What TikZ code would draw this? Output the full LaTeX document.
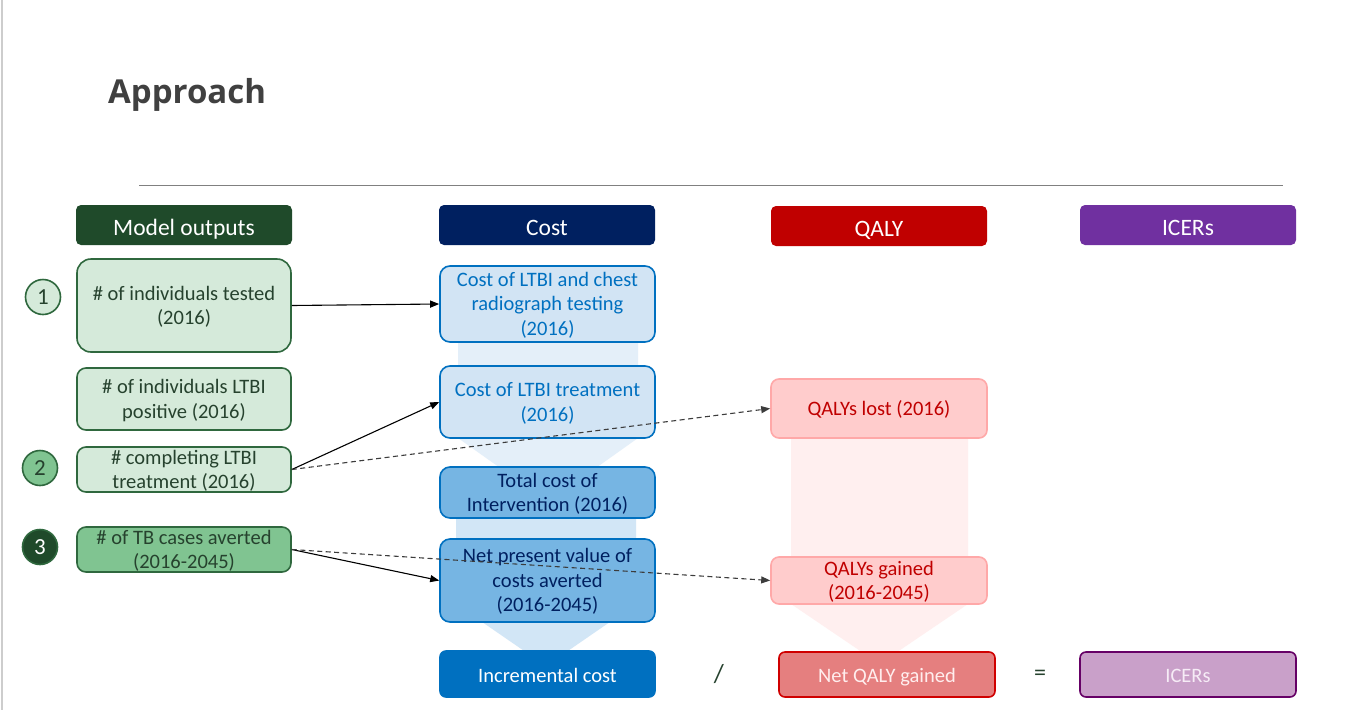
\documentclass[tikz,border=0pt]{standalone}
\usepackage{fontspec}
\setmainfont{Carlito}
\newfontfamily\titlefont{Open Sans}
\usetikzlibrary{arrows.meta}
\definecolor{hdrgreen}{RGB}{31,74,42}
\definecolor{hdrnavy}{RGB}{0,32,96}
\definecolor{hdrred}{RGB}{192,0,0}
\definecolor{hdrpurple}{RGB}{112,48,160}
\definecolor{lgfill}{RGB}{213,234,218}
\definecolor{mgfill}{RGB}{128,196,145}
\definecolor{gborder}{RGB}{47,104,62}
\definecolor{gtext}{RGB}{38,66,46}
\definecolor{lbfill}{RGB}{210,228,244}
\definecolor{mbfill}{RGB}{118,181,227}
\definecolor{bborder}{RGB}{0,112,192}
\definecolor{btext}{RGB}{0,112,192}
\definecolor{navytext}{RGB}{0,32,96}
\definecolor{arrowA}{RGB}{228,239,249}
\definecolor{arrowB}{RGB}{210,230,246}
\definecolor{arrowQ}{RGB}{255,239,239}
\definecolor{qfill}{RGB}{255,204,204}
\definecolor{qborder}{RGB}{255,168,168}
\definecolor{qtext}{RGB}{192,0,0}
\definecolor{netfill}{RGB}{229,127,127}
\definecolor{netborder}{RGB}{208,0,0}
\definecolor{icfill}{RGB}{201,160,201}
\definecolor{icborder}{RGB}{102,0,102}
\definecolor{titlegray}{RGB}{64,64,64}
\definecolor{linegray}{RGB}{128,128,128}
\definecolor{edgegray}{RGB}{205,205,205}
\definecolor{dashgray}{RGB}{60,60,60}
\newcommand\botstr{\rule[-4.8pt]{0pt}{4.8pt}}
\newcommand\ml[1]{\vbox to 0pt{\vss\hbox{\begin{tabular}{@{}c@{}}\rule{0pt}{21pt}#1\end{tabular}}\vss}}
\begin{document}
\begin{tikzpicture}[x=1pt,y=-1pt,
  tstr/.style={execute at begin node={\rule{0pt}{#1}}, execute at end node=\botstr},
  hdr/.style={rectangle, rounded corners=5pt, minimum width=216pt, minimum height=40pt, inner sep=0pt, text=white, font=\fontsize{23.5}{26}\selectfont, tstr=26pt},
  lbox/.style={rectangle, rounded corners=9pt, draw=gborder, line width=1.6pt, fill=lgfill, minimum width=214pt, inner sep=0pt, text=gtext, font=\fontsize{20.5}{24.5}\selectfont},
  circ/.style={circle, draw=gborder, line width=1.6pt, minimum size=35pt, inner sep=0pt, font=\fontsize{23}{26}\selectfont},
  cbox/.style={rectangle, rounded corners=10pt, draw=bborder, line width=1.6pt, minimum width=215pt, inner sep=0pt, font=\fontsize{20.5}{24.5}\selectfont},
  qbox/.style={rectangle, rounded corners=8pt, draw=qborder, line width=1.6pt, fill=qfill, minimum width=216pt, inner sep=0pt, text=qtext, font=\fontsize{20.5}{24.5}\selectfont},
  bbox/.style={rectangle, rounded corners=6pt, line width=1.6pt, minimum width=216pt, minimum height=45pt, inner sep=0pt, font=\fontsize{20.5}{24}\selectfont, tstr=20.5pt},
  conn/.style={line width=1.1pt, -{Triangle[length=9pt,width=7pt]}},
  dconn/.style={conn, draw=dashgray, dash pattern=on 5pt off 3.5pt}
]
\useasboundingbox (0,0) rectangle (1349,710);
\fill[white] (0,0) rectangle (1349,710);
\draw[edgegray, line width=1.2pt] (2,0) -- (2,710);
\node[anchor=base west, inner sep=0pt, text=titlegray, font=\titlefont\bfseries\fontsize{33}{36}\selectfont] (title) at (108,103) {Approach};
\draw[linegray, line width=1pt] (139,185) -- (1283,185);

% background block arrows
\fill[arrowA] (458,300) -- (638,300) -- (638,438) -- (548,502) -- (458,438) -- cycle;
\fill[arrowB] (456,505) -- (636,505) -- (636,604) -- (546,666) -- (456,604) -- cycle;
\fill[arrowQ] (791,420) -- (968,420) -- (968,604) -- (879.5,664) -- (791,604) -- cycle;

% headers
\node[hdr, fill=hdrgreen] (h1) at (184,225) {Model outputs};
\node[hdr, fill=hdrnavy] (h2) at (547,225) {Cost};
\node[hdr, fill=hdrred] (h3) at (879,226) {QALY};
\node[hdr, fill=hdrpurple] (h4) at (1188,225) {ICERs};

% model outputs
\node[lbox, rounded corners=14pt, minimum height=93pt] (m1) at (184,305.5) {\ml{\# of individuals tested\\(2016)}};
\node[lbox, minimum height=62pt] (m2) at (184,399) {\ml{\# of individuals LTBI\\positive (2016)}};
\node[lbox, minimum height=45pt] (m3) at (184,469.5) {\ml{\# completing LTBI\\treatment (2016)}};
\node[lbox, fill=mgfill, minimum height=45pt] (m4) at (184,549.5) {\ml{\# of TB cases averted\\(2016-2045)}};

\node[circ, fill=lgfill, text=gtext] (n1) at (43,297) {1};
\node[circ, fill=mgfill, text=gtext] (n2) at (40,468) {2};
\node[circ, fill=hdrgreen, text=white] (n3) at (40,547) {3};

% cost column
\node[cbox, fill=lbfill, text=btext, minimum height=76pt] (c1) at (547.5,304) {\ml{Cost of LTBI and chest\\radiograph testing\\(2016)}};
\node[cbox, fill=lbfill, text=btext, minimum height=72pt] (c2) at (547.5,402) {\ml{Cost of LTBI treatment\\(2016)}};
\node[cbox, fill=mbfill, text=navytext, minimum height=51pt] (c3) at (547.5,492.5) {\ml{Total cost of\\Intervention (2016)}};
\node[cbox, fill=mbfill, text=navytext, minimum height=83pt] (c4) at (547.5,580.5) {\ml{Net present value of\\costs averted\\(2016-2045)}};
\node[bbox, fill=bborder, draw=bborder, text=white, minimum width=215pt, minimum height=46pt, tstr=21.5pt] (inc) at (547.5,674) {Incremental cost};

% QALY column
\node[qbox, minimum height=59pt, tstr=18.5pt] (q1) at (879,408.5) {QALYs lost (2016)};
\node[qbox, minimum height=47pt] (q2) at (879,580.5) {\ml{QALYs gained\\(2016-2045)}};
\node[bbox, fill=netfill, draw=netborder, text={rgb,255:red,255;green,238;blue,238}] (net) at (887,674.5) {Net QALY gained};

% ICERs
\node[bbox, fill=icfill, draw=icborder, text={rgb,255:red,246;green,236;blue,246}] (icer) at (1188,674.5) {ICERs};

\node[text=gtext, font=\fontsize{26}{28}\selectfont, inner sep=0pt] (slash) at (719,674) {/};
\node[text=gtext, font=\fontsize{24}{26}\selectfont, inner sep=0pt] (eq) at (1040,675) {=};

% connectors
\draw[conn] (m1.east) -- (c1.west);
\draw[conn] (m3.east) -- (c2.west);
\draw[dconn] (m3.east) -- (q1.west);
\draw[conn] (m4.east) -- (c4.west);
\draw[dconn] (m4.east) -- (q2.west);
\end{tikzpicture}
\end{document}
